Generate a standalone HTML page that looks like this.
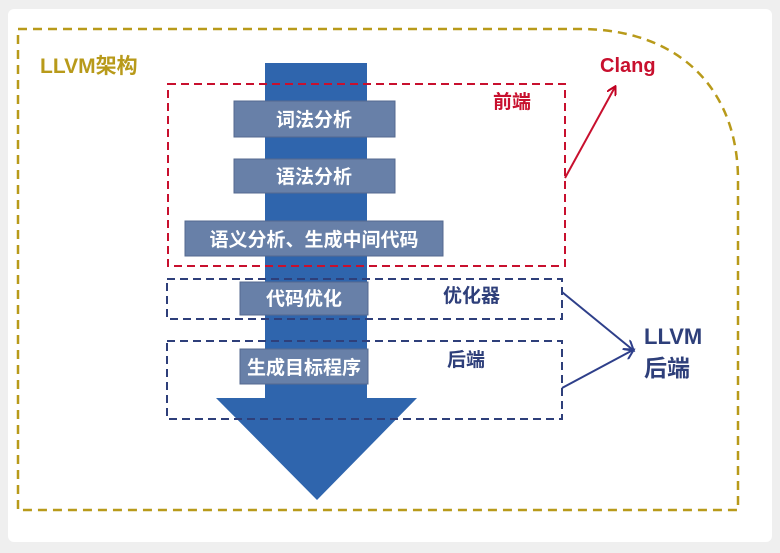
<!DOCTYPE html>
<html><head><meta charset="utf-8"><style>
body{margin:0;background:#efefef;width:780px;height:553px;overflow:hidden;}
</style></head><body>
<svg width="780" height="553" xmlns="http://www.w3.org/2000/svg" style="position:absolute;left:0;top:0;font-family:'Liberation Sans','Noto Sans CJK SC',sans-serif;font-weight:bold">
<defs>
<marker id="ar" markerWidth="10" markerHeight="10" refX="8" refY="5" orient="auto" markerUnits="userSpaceOnUse"><path d="M0,0 L9,5 L0,10" fill="none" stroke="#c00020" stroke-width="2"/></marker>
<marker id="ab" markerWidth="12" markerHeight="12" refX="9" refY="6" orient="auto" markerUnits="userSpaceOnUse"><path d="M0,0 L10,6 L0,12" fill="none" stroke="#2e3f8a" stroke-width="2"/></marker>
</defs>
<rect x="8" y="9" width="764" height="533" rx="6" fill="#fff"/>
<path d="M18,29 H580 C680,29 738,90 738,180 V510 H18 Z" fill="none" stroke="#b89a1a" stroke-width="2.5" stroke-dasharray="9,6"/>
<text x="40" y="73" fill="#b89a1a" font-size="21">LLVM架构</text>
<rect x="265" y="63" width="102" height="340" fill="#2f65ad"/>
<polygon points="216,398 417,398 317,500" fill="#2f65ad"/>
<rect x="168" y="84" width="397" height="182" fill="none" stroke="#c8102e" stroke-width="2" stroke-dasharray="8,5"/>
<rect x="167" y="279" width="395" height="40" fill="none" stroke="#2e3f7a" stroke-width="2" stroke-dasharray="8,5"/>
<rect x="167" y="341" width="395" height="78" fill="none" stroke="#2e3f7a" stroke-width="2" stroke-dasharray="8,5"/>
<g fill="#6880a8" stroke="#55698f" stroke-width="1">
<rect x="234" y="101" width="161" height="36"/>
<rect x="234" y="159" width="161" height="34"/>
<rect x="185" y="221" width="258" height="35"/>
<rect x="240" y="282" width="128" height="33"/>
<rect x="240" y="349" width="128" height="35"/>
</g>
<g fill="#fff" font-size="19" text-anchor="middle" font-weight="bold">
<text x="314" y="126">词法分析</text>
<text x="314" y="183">语法分析</text>
<text x="314" y="246">语义分析、生成中间代码</text>
<text x="304" y="305">代码优化</text>
<text x="304" y="374">生成目标程序</text>
</g>
<text x="493" y="108" fill="#c8102e" font-size="19">前端</text>
<text x="600" y="72" fill="#c8102e" font-size="20">Clang</text>
<text x="443" y="302" fill="#2e3f7a" font-size="19">优化器</text>
<text x="447" y="366" fill="#2e3f7a" font-size="19">后端</text>
<text x="644" y="344" fill="#2e3f7a" font-size="22">LLVM</text>
<text x="644" y="376" fill="#2e3f7a" font-size="23">后端</text>
<line x1="565" y1="178" x2="615" y2="87" stroke="#c8102e" stroke-width="2" marker-end="url(#ar)"/>
<line x1="562" y1="292" x2="633" y2="350" stroke="#2e3f8a" stroke-width="2" marker-end="url(#ab)"/>
<line x1="562" y1="388" x2="633" y2="350" stroke="#2e3f8a" stroke-width="2" marker-end="url(#ab)"/>
</svg>
</body></html>
